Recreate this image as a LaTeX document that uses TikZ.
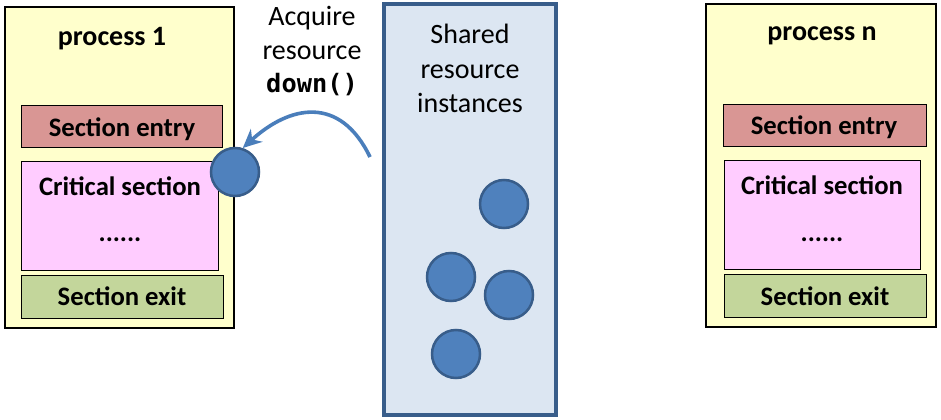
\documentclass[tikz,border=0pt]{standalone}
\usepackage{fontspec}
\setmainfont{Carlito}
\newfontfamily\codefont{DejaVu Sans Mono}
\usetikzlibrary{arrows.meta}
\newlength{\du}
\setlength{\du}{0.75pt}
\definecolor{procfill}{RGB}{255,255,204}
\definecolor{entryfill}{RGB}{217,150,148}
\definecolor{critfill}{RGB}{255,204,255}
\definecolor{exitfill}{RGB}{195,214,155}
\definecolor{poolfill}{RGB}{220,230,242}
\definecolor{poolline}{RGB}{56,93,138}
\definecolor{tokenfill}{RGB}{79,129,189}
\definecolor{grabline}{RGB}{74,126,187}
\tikzset{
  token/.style={circle,draw=poolline,fill=tokenfill,line width=2.5\du,minimum size=48\du,inner sep=0pt},
  boxtext/.style={anchor=base,inner sep=0pt,font=\fontsize{20}{24}\selectfont\bfseries},
  plaintext/.style={anchor=base,inner sep=0pt,font=\fontsize{21}{25}\selectfont},
}

\begin{document}
\begin{tikzpicture}
\pgftransformxscale{1.000000}
\pgftransformyscale{-1.000000}
\useasboundingbox (0\du,0\du) rectangle (941\du,420\du);
% process 1
\filldraw[fill=procfill,line width=1.3\du] (5\du,7\du) rectangle (234\du,328\du);
\filldraw[fill=entryfill,line width=1\du] (21\du,106\du) rectangle (222\du,148\du);
\filldraw[fill=critfill,line width=1\du] (21\du,162\du) rectangle (218\du,270\du);
\filldraw[fill=exitfill,line width=1\du] (21\du,275\du) rectangle (223\du,318\du);
\node[boxtext,font=\fontsize{21}{25}\selectfont\bfseries] (proc1) at (112\du,46\du){process 1};
\node[boxtext] (entry1) at (122\du,137\du){Section entry};
\node[boxtext] (crit1) at (120\du,196\du){Critical section};
\node[boxtext] (dots1) at (120\du,242\du){......};
\node[boxtext] (exit1) at (122\du,305\du){Section exit};
% process n
\filldraw[fill=procfill,line width=1.3\du] (706\du,4\du) rectangle (936\du,327\du);
\filldraw[fill=entryfill,line width=1\du] (723\du,105\du) rectangle (926\du,147\du);
\filldraw[fill=critfill,line width=1\du] (724\du,161\du) rectangle (920\du,269\du);
\filldraw[fill=exitfill,line width=1\du] (724\du,274\du) rectangle (926\du,317\du);
\node[boxtext,font=\fontsize{21}{25}\selectfont\bfseries] (procn) at (822\du,41\du){process n};
\node[boxtext] (entryn) at (824\du,135\du){Section entry};
\node[boxtext] (critn) at (822\du,195\du){Critical section};
\node[boxtext] (dotsn) at (822\du,241\du){......};
\node[boxtext] (exitn) at (825\du,305\du){Section exit};
% shared pool
\filldraw[fill=poolfill,draw=poolline,line width=3.5\du] (384\du,4\du) rectangle (556\du,415\du);
\node[plaintext] (pool1) at (470\du,44\du){Shared};
\node[plaintext] (pool2) at (470\du,79\du){resource};
\node[plaintext] (pool3) at (470\du,113\du){instances};
\node[token] (token1) at (504\du,204\du){};
\node[token] (token2) at (451\du,277\du){};
\node[token] (token3) at (509\du,295\du){};
\node[token] (token4) at (456\du,354\du){};
% acquire
\node[plaintext] (acq1) at (312\du,26\du){Acquire};
\node[plaintext] (acq2) at (312\du,60\du){resource};
\node[anchor=base,inner sep=0pt,font=\codefont\fontsize{19}{23}\selectfont\bfseries] (acq3) at (312\du,93\du){down()};
\node[token] (token0) at (235\du,172\du){};
\coordinate (grab) at (370\du,157\du);
\draw[draw=grabline,line width=3.6\du,-{Stealth[length=14pt,width=13pt]}] (grab) .. controls (340\du,95\du) and (290\du,105\du) .. (token0.72);
\end{tikzpicture}
\end{document}
